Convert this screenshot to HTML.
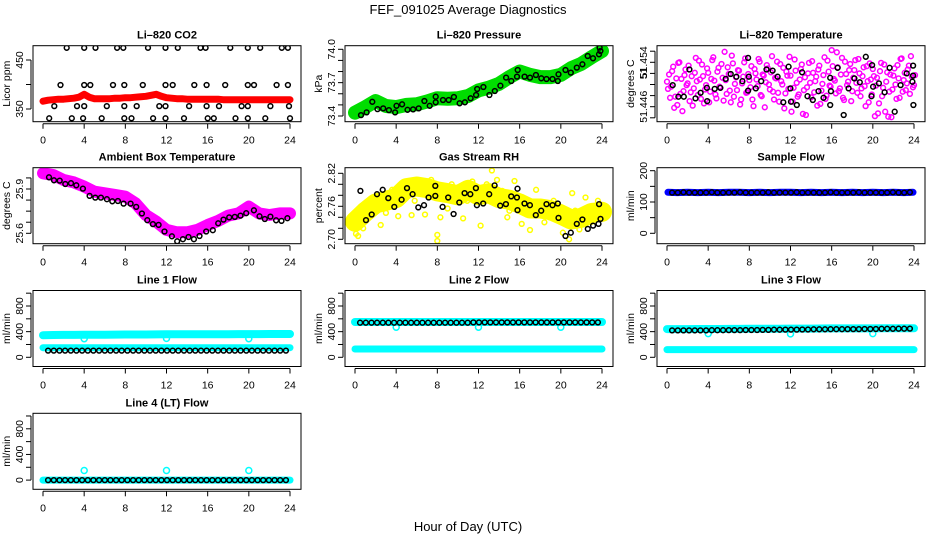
<!DOCTYPE html>
<html><head><meta charset="utf-8"><title>FEF_091025 Average Diagnostics</title>
<style>
html,body{margin:0;padding:0;background:#fff;}
svg{display:block;font-family:"Liberation Sans",Arial,sans-serif;}
</style></head>
<body>
<svg id="chart" xmlns="http://www.w3.org/2000/svg" width="936" height="540" viewBox="0 0 936 540">
<rect width="936" height="540" fill="#fff"/>
<text x="468" y="14" text-anchor="middle" font-size="13">FEF_091025  Average Diagnostics</text>
<text x="468" y="531" text-anchor="middle" font-size="13">Hour of Day (UTC)</text>
</svg>
<script>
// ---------- data ----------
const xTicks = [0,4,8,12,16,20,24];
const sampleHours = [0.5,1.05,1.6,2.15,2.7,3.25,3.8,4.35,4.9,5.45,6.0,6.55,7.1,7.65,8.2,8.75,9.3,9.85,10.4,10.95,11.5,12.05,12.6,13.15,13.7,14.25,14.8,15.35,15.9,16.45,17.0,17.55,18.1,18.65,19.2,19.75,20.3,20.85,21.4,21.95,22.5,23.05,23.6];
const bandHours = [0,1,2,3,4,5,6,7,8,9,10,11,12,13,14,15,16,17,18,19,20,21,22,23,24];
const dipHours = [4,12,20];

// CO2
const co2RedHalfHours = [0,0.5,1,1.5,2,2.5,3,3.5,4,4.5,5,5.5,6,6.5,7,7.5,8,8.5,9,9.5,10,10.5,11,11.5,12,12.5,13,13.5,14,14.5,15,15.5,16,16.5,17,17.5,18,18.5,19,19.5,20,20.5,21,21.5,22,22.5,23,23.5,24];
const co2Red = [366,368,369,370,370,371,372,374,380,374,371,371,371,371,372,372,373,373,374,375,376,378,380,376,373,372,371,371,370,370,370,370,370,370,370,369,369,369,369,369,369,369,369,369,369,369,369,369,369];
const co2BlkHours = [2.3,4.0,5.1,7.2,7.8,10.2,11.9,13.1,15.3,15.8,18.2,19.9,21.1,23.2,23.8, 1.7,4.0,4.6,6.8,7.9,9.7,11.9,12.6,14.7,15.9,17.7,19.9,20.5,22.7,23.8, 1.1,3.3,4.0,6.2,7.9,9.1,11.3,11.9,14.2,15.9,17.1,19.3,19.9,22.1,23.9, 0.6,2.8,3.9,5.7,7.9,8.6,10.7,11.9,13.7,16.0,16.6,18.7,19.9,21.6,24.0];
const co2BlkVals = [475,475,475,475,475,475,475,475,475,475,475,475,475,475,475, 399,399,399,399,399,399,399,399,399,399,399,399,399,399,399, 356,356,356,356,356,356,356,356,356,356,356,356,356,356,356, 331,331,331,331,331,331,331,331,331,331,331,331,331,331,331];

// Pressure
const presBand = [73.43,73.48,73.535,73.49,73.48,73.50,73.505,73.53,73.56,73.555,73.56,73.58,73.63,73.655,73.69,73.75,73.80,73.77,73.75,73.75,73.77,73.83,73.87,73.93,73.985];
const presBlkHours = [0.58,1.13,1.68,2.19,2.74,3.29,3.9,4.03,4.58,5.1,5.65,6.19,6.74,7.26,7.84,7.84,8.55,9.1,9.61,10.16,10.68,11.23,11.77,11.87,12.48,13.06,13.58,14.13,14.68,15.19,15.74,15.81,16.48,17.0,17.58,18.1,18.61,19.19,19.71,19.77,20.45,20.97,21.55,22.1,22.61,23.13,23.71,23.77,23.84];
const presBlkVals = [73.408,73.432,73.528,73.462,73.468,73.453,73.432,73.492,73.505,73.456,73.459,73.468,73.535,73.492,73.523,73.574,73.544,73.544,73.571,73.514,73.523,73.559,73.589,73.643,73.661,73.589,73.625,73.673,73.745,73.715,73.754,73.814,73.754,73.745,73.769,73.739,73.733,73.733,73.715,73.775,73.814,73.790,73.835,73.865,73.940,73.919,73.955,74.015,73.985];

// Temperature
const tempMagA = [51.4505,51.4518,51.4496,51.4532,51.4478,51.4463,51.4540,51.4510,51.4488,51.4527,
51.4502,51.4470,51.4515,51.4493,51.4548,51.4481,51.4509,51.4536,51.4466,51.4499,
51.4521,51.4487,51.4544,51.4507,51.4475,51.4530,51.4494,51.4512,51.4559,51.4483,
51.4519,51.4468,51.4538,51.4501,51.4490,51.4525,51.4473,51.4514,51.4547,51.4486,
51.4508,51.4533,51.4461,51.4520,51.4497,51.4541,51.4479,51.4516,51.4504,51.4529,
51.4491,51.4551,51.4473,51.4511,51.4485,51.4537,51.4500,51.4457,51.4523,51.4492,
51.4516,51.4469,51.4545,51.4503,51.4482,51.4528,51.4447,51.4513,51.4495,51.4539,
51.4477,51.4521,51.4506,51.4462,51.4534,51.4489,51.4517,51.4474,51.4543,51.4498,
51.4562,51.4510,51.4484,51.4531,51.4493,51.4548,51.4472,51.4519,51.4505,51.4537,
51.4488,51.4526,51.4503,51.4546,51.4479,51.4515,51.4497,51.4533,51.4468,51.4509,
51.4528,51.4443,51.4512,51.4466,51.4539,51.4494,51.4451,51.4522,51.4487,51.4441,
51.4516,51.4500,51.4535,51.4476,51.4547,51.4508,51.4490,51.4527,51.4483,51.4514,51.4499];
const tempMagB = [51.4492,51.4476,51.4524,51.4458,51.4511,51.4539,51.4483,51.4452,51.4517,51.4499,
51.4534,51.4486,51.4462,51.4521,51.4506,51.4543,51.4474,51.4515,51.4491,51.4529,
51.4468,51.4510,51.4549,51.4482,51.4523,51.4496,51.4537,51.4471,51.4508,51.4531,
51.4489,51.4552,51.4478,51.4513,51.4526,51.4464,51.4502,51.4540,51.4485,51.4519,
51.4495,51.4473,51.4528,51.4509,51.4546,51.4481,51.4518,51.4459,51.4535,51.4500,
51.4522,51.4487,51.4512,51.4541,51.4469,51.4506,51.4530,51.4484,51.4516,51.4550,
51.4451,51.4494,51.4525,51.4478,51.4509,51.4536,51.4490,51.4445,51.4520,51.4503,
51.4542,51.4486,51.4514,51.4527,51.4465,51.4501,51.4549,51.4480,51.4523,51.4496,
51.4533,51.4507,51.4558,51.4488,51.4518,51.4476,51.4541,51.4499,51.4526,51.4470,
51.4512,51.4544,51.4485,51.4520,51.4493,51.4531,51.4461,51.4506,51.4538,51.4482,
51.4515,51.4498,51.4448,51.4524,51.4479,51.4536,51.4505,51.4442,51.4518,51.4491,
51.4529,51.4474,51.4511,51.4546,51.4487,51.4521,51.4502,51.4534,51.4551,51.4495,51.4517];
const tempMagStep = 0.2;
const tempBlkHours = [0.55,1.11,1.63,2.18,2.77,3.26,3.88,3.91,4.63,5.18,5.70,6.19,6.74,7.33,7.88,7.95,7.88,8.63,9.15,9.67,10.26,10.75,11.30,11.82,11.99,12.05,12.61,13.13,13.65,14.17,14.72,15.21,15.86,15.93,15.86,16.58,17.17,17.65,18.21,18.73,19.32,19.87,19.93,20.03,20.59,21.14,21.63,22.12,22.70,23.29,23.84,23.91,23.91,23.94];
const tempBlkVals = [51.4499,51.4478,51.4478,51.4527,51.4475,51.4485,51.4494,51.4470,51.4492,51.4494,51.4510,51.4519,51.4514,51.4506,51.4489,51.4514,51.4548,51.4493,51.4506,51.4527,51.4525,51.4514,51.4468,51.4532,51.4493,51.4469,51.4463,51.4522,51.4479,51.4472,51.4488,51.4476,51.4463,51.4488,51.4512,51.4530,51.4445,51.4493,51.4511,51.4504,51.4550,51.4479,51.4535,51.4496,51.4502,51.4486,51.4530,51.4451,51.4499,51.4520,51.4505,51.4534,51.4516,51.4463];

// Ambient box temperature
const ambBand = [26.006,25.995,25.961,25.945,25.916,25.882,25.871,25.860,25.848,25.803,25.724,25.679,25.623,25.607,25.607,25.623,25.656,25.684,25.720,25.735,25.781,25.735,25.724,25.735,25.735];
const ambBlkHours = [0.58,1.07,1.62,2.17,2.72,3.24,3.88,4.53,5.08,5.63,6.21,6.73,7.28,7.83,8.51,9.06,9.61,10.13,10.68,11.23,11.81,12.52,13.04,13.59,14.14,14.66,15.21,15.86,16.50,17.02,17.54,18.09,18.64,19.19,19.74,20.49,21.04,21.55,22.10,22.65,23.17,23.75];
const ambBlkVals = [25.979,25.959,25.957,25.934,25.939,25.925,25.903,25.853,25.842,25.842,25.831,25.817,25.819,25.801,25.801,25.779,25.734,25.689,25.662,25.657,25.612,25.580,25.546,25.560,25.575,25.560,25.582,25.612,25.621,25.668,25.693,25.708,25.711,25.720,25.736,25.756,25.715,25.697,25.713,25.688,25.684,25.702];

// Gas stream RH
const rhBand = [2.732,2.750,2.765,2.770,2.775,2.793,2.796,2.793,2.787,2.784,2.780,2.790,2.780,2.784,2.775,2.772,2.765,2.756,2.756,2.753,2.745,2.736,2.739,2.748,2.750];
const rhYelHours = [0.1,0.3,0.8,1.3,2.5,3.6,4.2,4.9,5.5,6.2,6.8,8.0,8.0,8.3,9.4,10.5,11.4,12.2,13.3,13.8,14.8,15.5,16.2,17.0,17.6,18.4,19.3,20.2,20.8,21.1,21.8,22.4,23.0,23.6,0.6,2.0,3.0,4.5,5.8,7.4,9.0,10.9,12.8,14.3,15.0,16.8,18.9,19.8,21.4,22.9];
const rhYelVals = [2.710,2.706,2.720,2.745,2.726,2.790,2.742,2.803,2.744,2.806,2.745,2.708,2.697,2.740,2.800,2.738,2.805,2.725,2.825,2.808,2.740,2.806,2.728,2.717,2.790,2.731,2.770,2.712,2.700,2.784,2.718,2.776,2.732,2.770,2.760,2.778,2.748,2.790,2.770,2.808,2.756,2.770,2.800,2.788,2.752,2.760,2.740,2.734,2.752,2.742];
const rhBlkHours = [0.52,1.07,1.62,2.14,2.69,3.24,3.82,4.53,5.05,5.60,6.15,6.70,7.15,7.80,7.80,8.51,9.06,9.58,10.13,10.65,11.20,11.75,11.84,12.46,13.04,13.56,14.11,14.66,15.18,15.73,15.79,15.79,16.47,16.99,17.57,18.09,18.61,19.19,19.71,19.77,20.45,20.97,21.55,22.10,22.62,23.14,23.66,23.72,23.85];
const rhBlkVals = [2.788,2.735,2.745,2.782,2.790,2.775,2.759,2.772,2.793,2.782,2.758,2.762,2.776,2.797,2.779,2.759,2.776,2.746,2.767,2.784,2.782,2.793,2.762,2.765,2.782,2.798,2.761,2.764,2.778,2.776,2.792,2.753,2.765,2.762,2.744,2.752,2.764,2.762,2.765,2.739,2.706,2.712,2.728,2.736,2.719,2.725,2.728,2.764,2.737];

// Sample flow
const sampleBlue = [131,130,131,130,131,130,131,131,130,131,130,131,131,130,131,130,131,130,131,130,131,130,131,130,131];
const sampleBlk = [130,130,131,130,130,130,130,131,130,130,130,130,131,130,130,130,130,131,130,130,130,130,131,130,130,130,130,130,131,130,130,130,130,131,130,130,130,130,130,131,130,130,131];

// Line flows
const line1CyanHi = [345,348,350,350,352,352,353,354,355,355,356,357,358,358,359,360,360,361,361,362,362,362,363,363,363];
const line1CyanLo = [150,150,150,150,150,150,150,150,150,150,150,150,150,150,150,150,150,150,150,150,150,150,150,150,150];
const line1Dips = [290,295,290];
const line1Blk = [105,105,105,105,105,105,105,105,105,105,105,105,105,105,105,105,105,105,105,105,105,105,105,105,105,105,105,105,105,105,105,105,105,105,105,105,105,105,105,105,105,105,105];

const line2CyanHi = [550,550,550,550,550,550,550,550,550,550,550,550,550,550,550,550,550,550,550,550,550,550,550,550,550];
const line2CyanLo = [130,130,130,130,130,130,130,130,130,130,130,130,130,130,130,130,130,130,130,130,130,130,130,130,130];
const line2Dips = [470,470,470];
const line2Blk = [540,540,540,540,540,540,540,540,540,540,540,540,540,540,540,540,540,540,540,540,545,545,545,545,545,545,545,545,545,545,545,545,545,545,545,545,545,545,545,545,545,545,545];

const line3CyanHi = [440,440,440,442,442,442,443,443,444,444,445,445,447,448,448,449,450,450,450,451,451,452,452,452,452];
const line3CyanLo = [120,120,120,120,120,120,120,120,120,120,120,120,120,120,120,120,120,120,120,120,120,120,120,120,120];
const line3Dips = [370,365,370];
const line3Blk = [420,420,420,420,420,420,420,422,422,422,424,424,424,426,426,426,428,428,430,430,432,432,432,434,434,436,436,436,438,438,438,440,440,440,442,442,442,444,444,444,446,446,448];

const line4Cyan = [0,0,0,0,0,0,0,0,0,0,0,0,0,0,0,0,0,0,0,0,0,0,0,0,0];
const line4Spikes = [150,150,150];
const line4Blk = [0,0,0,0,0,0,0,0,0,0,0,0,0,0,0,0,0,0,0,0,0,0,0,0,0,0,0,0,0,0,0,0,0,0,0,0,0,0,0,0,0,0,0];

// ---------- drawing ----------
const NS = "http://www.w3.org/2000/svg";
const svg = document.getElementById('chart');
const colX = [33, 345, 657];
const rowY = [45.7, 167.7, 290.5, 413.3];
const boxW = 268, boxH = 76;

function mk(tag, attrs, parent){
  const el = document.createElementNS(NS, tag);
  for (const k in attrs) el.setAttribute(k, attrs[k]);
  parent.appendChild(el);
  return el;
}

function panel(o){
  const bx = colX[o.col], by = rowY[o.row];
  const g = mk('g', {}, svg);
  
  
  const X = h => bx + 10 + h * (247 / 24);
  const k = (o.py1 - o.py0) / (o.v1 - o.v0);
  const Y = v => by + o.py0 + (v - o.v0) * k;
  const plot = mk('g', {'clip-path': 'url(#clip' + o.name + ')'}, g);
  
  
  const cp = mk('clipPath', {id: 'clip' + o.name}, g);
  mk('rect', {x: bx, y: by, width: boxW, height: boxH}, cp);
  const box = mk('rect', {x: bx, y: by, width: boxW, height: boxH, fill: 'none', stroke: '#000', 'stroke-width': 1}, g);
  
  
  const t = mk('text', {x: bx + boxW / 2, y: by - 7, 'text-anchor': 'middle', 'font-size': 11, 'font-weight': 'bold'}, g);
  t.textContent = o.title;
  
  
  const yl = mk('text', {transform: 'translate(' + (bx - 23) + ',' + (by + boxH / 2) + ') rotate(-90)', 'text-anchor': 'middle', 'font-size': 10.5}, g);
  yl.textContent = o.ylab;
  
  
  // x axis
  const xa = mk('g', {}, g);
  
  
  mk('line', {x1: X(0), x2: X(24), y1: by + boxH + 2, y2: by + boxH + 2, stroke: '#000'}, xa);
  xTicks.forEach(h => {
    mk('line', {x1: X(h), x2: X(h), y1: by + boxH + 2, y2: by + boxH + 7, stroke: '#000'}, xa);
    const tl = mk('text', {x: X(h), y: by + boxH + 22, 'text-anchor': 'middle', 'font-size': 10.5}, xa);
    tl.textContent = String(h);
    
    
  });
  // y axis
  const ya = mk('g', {}, g);
  
  
  const ys = o.ticks.map(Y);
  mk('line', {x1: bx - 2, x2: bx - 2, y1: Math.min(...ys), y2: Math.max(...ys), stroke: '#000'}, ya);
  o.ticks.forEach((v, i) => {
    mk('line', {x1: bx - 7, x2: bx - 2, y1: Y(v), y2: Y(v), stroke: '#000'}, ya);
    if (o.labels[i]) {
      const tl = mk('text', {transform: 'translate(' + (bx - 10) + ',' + Y(v) + ') rotate(-90)', 'text-anchor': 'middle', 'font-size': 10.5}, ya);
      tl.textContent = o.labels[i];
      
      
    }
  });
  return {X, Y, g: plot};
}

function band(P, xs, ys, color, w, name){
  const d = xs.map((h, i) => P.X(h).toFixed(1) + ',' + P.Y(ys[i]).toFixed(1)).join(' ');
  const el = mk('polyline', {points: d, fill: 'none', stroke: color, 'stroke-width': w, 'stroke-linecap': 'round', 'stroke-linejoin': 'round'}, P.g);
  
  
}
function pts(P, xs, ys, color, name, r){
  const g = mk('g', {}, P.g);
  
  
  xs.forEach((h, i) => {
    const c = mk('circle', {cx: P.X(h).toFixed(1), cy: P.Y(ys[i]).toFixed(1), r: r || 2.4, fill: 'none', stroke: color, 'stroke-width': 1.5}, g);
    
    
  });
}

// CO2
let P = panel({name: 'co2', col: 0, row: 0, title: 'Li\u2013820 CO2', ylab: 'Licor ppm', v0: 450, py0: 14.3, v1: 350, py1: 63.3, ticks: [350, 400, 450], labels: ['350', '', '450']});
band(P, co2RedHalfHours, co2Red, '#ff0000', 7, 'co2-red-band');
pts(P, co2BlkHours, co2BlkVals, '#000', 'co2-black-series');

// Pressure
P = panel({name: 'pressure', col: 1, row: 0, title: 'Li\u2013820 Pressure', ylab: 'kPa', v0: 74.0, py0: 3.6, v1: 73.4, py1: 70.3, ticks: [73.4, 73.5, 73.6, 73.7, 73.8, 73.9, 74.0], labels: ['73.4', '', '', '73.7', '', '', '74.0']});
band(P, bandHours, presBand, '#00dd00', 14, 'pressure-green-band');
pts(P, presBlkHours, presBlkVals, '#000', 'pressure-black-series');

// Temperature
P = panel({name: 'temperature', col: 2, row: 0, title: 'Li\u2013820 Temperature', ylab: 'degrees C', v0: 51.454, py0: 16.6, v1: 51.446, py1: 61.0, ticks: [51.444, 51.446, 51.448, 51.450, 51.452, 51.454, 51.456], labels: ['', '51.446', '', '', '51', '51.454', '']});
pts(P, tempMagA.map((v, i) => i * tempMagStep), tempMagA, '#ff00ff', 'temperature-magenta-a');
pts(P, tempMagB.map((v, i) => i * tempMagStep + 0.1), tempMagB, '#ff00ff', 'temperature-magenta-b');
pts(P, tempBlkHours, tempBlkVals, '#000', 'temperature-black-series');

// Ambient
P = panel({name: 'ambient', col: 0, row: 1, title: 'Ambient Box Temperature', ylab: 'degrees C', v0: 25.9, py0: 21.3, v1: 25.6, py1: 65.6, ticks: [25.6, 25.675, 25.75, 25.825, 25.9, 25.975], labels: ['25.6', '', '', '', '25.9', '']});
band(P, bandHours, ambBand, '#ff00ff', 12, 'ambient-magenta-band');
pts(P, ambBlkHours, ambBlkVals, '#000', 'ambient-black-series');

// RH
P = panel({name: 'rh', col: 1, row: 1, title: 'Gas Stream RH', ylab: 'percent', v0: 2.82, py0: 5.6, v1: 2.70, py1: 71.6, ticks: [2.70, 2.72, 2.74, 2.76, 2.78, 2.80, 2.82], labels: ['2.70', '', '', '2.76', '', '', '2.82']});
band(P, bandHours, rhBand, '#ffff00', 20, 'rh-yellow-band');
pts(P, rhYelHours, rhYelVals, '#ffff00', 'rh-yellow-scatter');
pts(P, rhBlkHours, rhBlkVals, '#000', 'rh-black-series');

// Sample flow
P = panel({name: 'sampleflow', col: 2, row: 1, title: 'Sample Flow', ylab: 'ml/min', v0: 200, py0: 3.0, v1: 0, py1: 65.6, ticks: [0, 50, 100, 150, 200], labels: ['0', '', '100', '', '200']});
band(P, bandHours.map(h => Math.max(0.1, Math.min(23.9, h))), sampleBlue, '#0000ff', 7, 'sampleflow-blue-band');
pts(P, sampleHours, sampleBlk, '#000', 'sampleflow-black-series');

// Flow panels
const flowAxis = {v0: 800, py0: 15.5, v1: 0, py1: 66.8, ticks: [0, 200, 400, 600, 800, 1000], labels: ['0', '', '400', '', '800', '']};
function flowPanel(name, col, row, title, series){
  const P = panel(Object.assign({name, col, row, title, ylab: 'ml/min'}, flowAxis));
  series(P);
}
flowPanel('line1', 0, 2, 'Line 1 Flow', P => {
  band(P, bandHours, line1CyanHi, '#00ffff', 8, 'line1-cyan-high');
  band(P, bandHours, line1CyanLo, '#00ffff', 7, 'line1-cyan-low');
  pts(P, dipHours, line1Dips, '#00ffff', 'line1-cyan-dips', 3);
  pts(P, sampleHours, line1Blk, '#000', 'line1-black-series');
});
flowPanel('line2', 1, 2, 'Line 2 Flow', P => {
  band(P, bandHours, line2CyanHi, '#00ffff', 8, 'line2-cyan-high');
  band(P, bandHours, line2CyanLo, '#00ffff', 7, 'line2-cyan-low');
  pts(P, dipHours, line2Dips, '#00ffff', 'line2-cyan-dips', 3);
  pts(P, sampleHours, line2Blk, '#000', 'line2-black-series');
});
flowPanel('line3', 2, 2, 'Line 3 Flow', P => {
  band(P, bandHours, line3CyanHi, '#00ffff', 8, 'line3-cyan-high');
  band(P, bandHours, line3CyanLo, '#00ffff', 7, 'line3-cyan-low');
  pts(P, dipHours, line3Dips, '#00ffff', 'line3-cyan-dips', 3);
  pts(P, sampleHours, line3Blk, '#000', 'line3-black-series');
});
flowPanel('line4', 0, 3, 'Line 4 (LT) Flow', P => {
  band(P, bandHours, line4Cyan, '#00ffff', 7, 'line4-cyan-band');
  pts(P, dipHours, line4Spikes, '#00ffff', 'line4-cyan-spikes', 3);
  pts(P, sampleHours, line4Blk, '#000', 'line4-black-series');
});
</script>
</body></html>
